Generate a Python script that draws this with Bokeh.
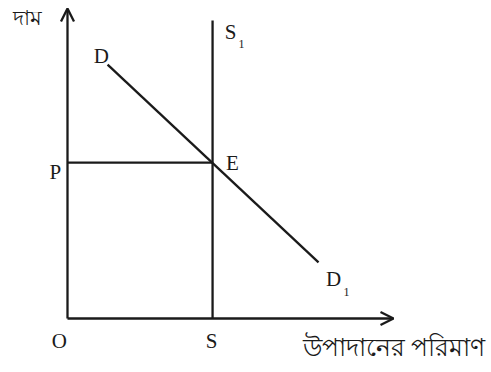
from bokeh.plotting import figure
from bokeh.models import Arrow, OpenHead, ColumnDataSource, Range1d
from bokeh.core.properties import value
from bokeh.embed import file_html
from bokeh.resources import INLINE

# --- data ---
axis_max_q = 10.0
axis_max_p = 10.0
demand_q = [1.23, 7.70]
demand_p = [8.19, 1.81]
supply_q = [4.45, 4.45]
supply_p = [0.0, 9.61]
eq_q = 4.45
eq_p = 5.03
price_axis_label = "দাম"
qty_axis_label = "উপাদানের পরিমাণ"

W, H = 491, 372
p = figure(width=W, height=H, output_backend="svg", toolbar_location=None,
           x_range=Range1d(-2.055, 13.006), y_range=Range1d(-1.742, 10.258),
           min_border=0, outline_line_color=None)
p.axis.visible = False
p.grid.visible = False
p.background_fill_color = "white"
p.border_fill_color = "white"

lw = 2.3
col = "#1a1a1a"
# axes with arrows
p.add_layout(Arrow(end=OpenHead(size=13, line_width=lw, line_color=col),
                   x_start=0, y_start=0, x_end=axis_max_q, y_end=0,
                   line_width=lw, line_color=col))
p.add_layout(Arrow(end=OpenHead(size=13, line_width=lw, line_color=col),
                   x_start=0, y_start=0, x_end=0, y_end=axis_max_p,
                   line_width=lw, line_color=col))

# demand, supply, price line
p.line(demand_q, demand_p, line_width=lw, line_color=col)
p.line(supply_q, supply_p, line_width=lw, line_color=col)
p.line([0, eq_q], [eq_p, eq_p], line_width=lw, line_color=col)

serif = value("Liberation Serif")
big = "21px"
small = "12px"

labels = ColumnDataSource(dict(
    x=[demand_q[0] - 0.19, supply_q[1] + 0.55, -0.37, eq_q + 0.61,
       demand_q[1] + 0.46, -0.25, supply_q[0] - 0.03],
    y=[demand_p[0] + 0.29, supply_p[1] - 0.38, eq_p - 0.32, eq_p,
       demand_p[1] - 0.55, -0.71, -0.74],
    t=["D", "S", "P", "E", "D", "O", "S"],
))
p.text(x="x", y="y", text="t", source=labels, text_font=serif,
       text_font_size=big, text_align="center", text_baseline="middle",
       text_color=col)
subs = ColumnDataSource(dict(
    x=[supply_q[1] + 0.89, demand_q[1] + 0.86],
    y=[supply_p[1] - 0.74, demand_p[1] - 0.97],
    t=["1", "1"],
))
p.text(x="x", y="y", text="t", source=subs, text_font=serif,
       text_font_size=small, text_align="center", text_baseline="middle",
       text_color=col)

p.text(x=[-1.66], y=[9.72], text=[price_axis_label], text_font=value("Noto Sans"),
       text_font_size="21px", text_align="left", text_baseline="middle",
       text_color=col)
p.text(x=[7.21], y=[-0.90], text=[qty_axis_label], text_font=value("Noto Sans"),
       text_font_size="25px", text_align="left", text_baseline="middle",
       text_color=col)

open("out.html", "w").write(file_html(p, INLINE))
